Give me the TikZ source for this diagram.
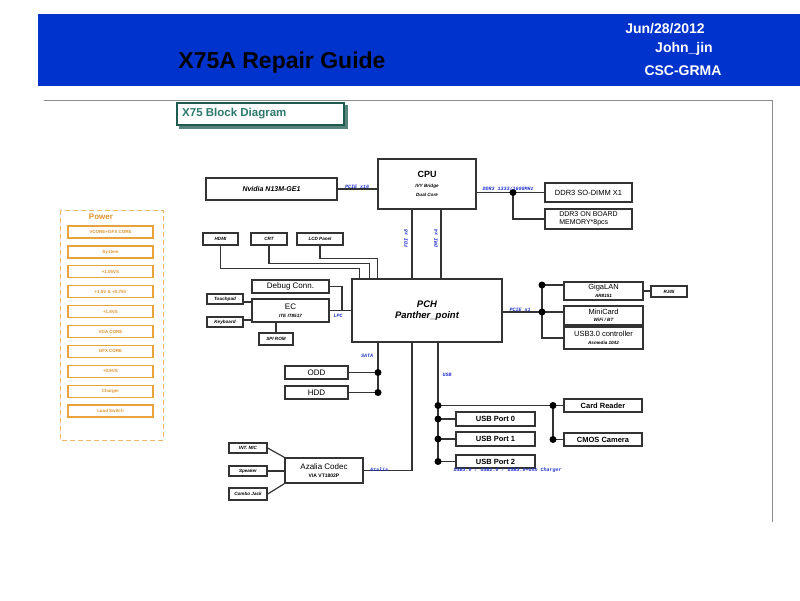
\documentclass[tikz,border=0pt]{standalone}
\usepackage{fontspec}
\setmainfont{Liberation Sans}
\setmonofont{Liberation Mono}
\usetikzlibrary{calc}
\definecolor{hdrblue}{HTML}{0033CC}
\definecolor{pwr}{HTML}{E8A33D}
\definecolor{pwrtxt}{HTML}{E0922E}
\definecolor{teal1}{HTML}{2C7A6B}
\definecolor{teal2}{HTML}{1E5A50}
\definecolor{busblue}{HTML}{2233CC}
\tikzset{
  box/.style={draw=black!80, line width=1.3pt, fill=white, inner sep=0pt, align=center},
  wire/.style={draw=black!80, line width=1.2pt},
  jdot/.style={circle, fill=black, inner sep=0pt, minimum size=7pt},
  buslbl/.style={text=busblue, inner sep=0.5pt, font=\fontsize{5}{5}\selectfont\ttfamily\bfseries\itshape},
  pbox/.style={draw=pwr, line width=1.3pt, minimum width=85pt, minimum height=12pt, inner sep=0pt,
    text=pwrtxt, font=\fontsize{4.5}{5}\selectfont\bfseries},
  tiny/.style={font=\fontsize{4.6}{5}\selectfont\bfseries\itshape},
  two/.style={font=\fontsize{5}{7.5}\selectfont},
  hdr/.style={text=white, font=\fontsize{14}{15}\selectfont\bfseries, inner sep=0pt},
}
\newcommand{\sm}[1]{{\fontsize{4.6}{5.5}\selectfont\bfseries\itshape #1}}
\begin{document}
\begin{tikzpicture}[x=1pt,y=-1pt]
\useasboundingbox (0,0) rectangle (800,600);
% header
\fill[hdrblue] (38,14) rectangle (800,86);
\node[font=\fontsize{23}{24}\selectfont\bfseries, inner sep=0pt] (title) at (282,63) {X75A Repair Guide};
\node[hdr] (date) at (665,29) {Jun/28/2012};
\node[hdr] (author) at (684,49) {John\_jin};
\node[hdr] (dept) at (683,71) {CSC-GRMA};
% frame
\draw[black!45, line width=1pt] (44,100) -- (772,100) -- (772,522);
% block diagram title
\fill[teal2!75] (179,105) rectangle (348,129);
\node[draw=teal2, line width=2.4pt, fill=white, minimum width=167pt, minimum height=22pt, inner sep=0pt] (bdt) at (260.5,114) {};
\node[text=teal1, font=\fontsize{11.5}{12}\selectfont\bfseries, anchor=west, inner sep=0pt] (bdtx) at (182,114) {X75 Block Diagram};
% power panel
\draw[pwr!80, line width=0.9pt, dash pattern=on 5pt off 3pt] (60,210) rectangle (163,440);
\node[text=pwrtxt, font=\fontsize{8}{9}\selectfont\bfseries, inner sep=0pt] (pwrt) at (101,217) {Power};
\foreach \t [count=\i from 0] in {VCORE+GFX CORE, System, +1.05VS, +1.5V \& +0.75V, +1.8VS, VGA CORE, GFX CORE, +0.8VS, Charger, Load Switch}{
  \node[pbox] (p\i) at (110.5,{232+19.9*\i}) {\t};
}
% CPU & neighbours
\node[box, two, minimum width=98pt, minimum height=50pt] (cpu) at (427,184)
  {{\fontsize{9}{10}\selectfont\bfseries CPU}\\[2pt]\sm{IVY Bridge}\\[1.5pt]\sm{Dual Core}};
\node[box, minimum width=131pt, minimum height=22pt, font=\fontsize{7}{8}\selectfont\bfseries\itshape] (nv) at (271.5,189) {Nvidia N13M-GE1};
\node[box, minimum width=87pt, minimum height=19pt, font=\fontsize{7.5}{8}\selectfont] (dimm) at (588.5,192.5) {DDR3 SO-DIMM X1};
\node[box, minimum width=87pt, minimum height=20pt, font=\fontsize{7}{7.5}\selectfont, align=left] (onb) at (588.5,219) {DDR3 ON BOARD\\MEMORY*8pcs};
% display connectors
\node[box, minimum width=35pt, minimum height=12pt, tiny] (hdmi) at (220.5,239) {HDMI};
\node[box, minimum width=36pt, minimum height=12pt, tiny] (crt) at (269,239) {CRT};
\node[box, minimum width=46pt, minimum height=12pt, tiny] (lcd) at (320,239) {LCD Panel};
% PCH
\node[box, minimum width=150pt, minimum height=63pt, font=\fontsize{9.5}{11}\selectfont\bfseries\itshape] (pch) at (427,310.5) {PCH\\Panther\_point};
% left side of PCH
\node[box, minimum width=77pt, minimum height=13pt, font=\fontsize{8}{9}\selectfont] (dbg) at (290.5,286.5) {Debug Conn.};
\node[box, two, minimum width=77pt, minimum height=23pt] (ec) at (290.5,310.5) {{\fontsize{8}{9}\selectfont EC}\\[1pt]\sm{ITE IT8517}};
\node[box, minimum width=36pt, minimum height=10pt, tiny] (tp) at (225,299) {Touchpad};
\node[box, minimum width=36pt, minimum height=10pt, tiny] (kb) at (225,322) {Keyboard};
\node[box, minimum width=34pt, minimum height=12pt, tiny] (spi) at (276,339) {SPI ROM};
\node[box, minimum width=63pt, minimum height=13pt, font=\fontsize{8}{9}\selectfont] (odd) at (316.5,372.5) {ODD};
\node[box, minimum width=63pt, minimum height=13pt, font=\fontsize{8}{9}\selectfont] (hdd) at (316.5,392.5) {HDD};
% right side of PCH
\node[box, two, minimum width=79pt, minimum height=18pt] (lan) at (603.5,291) {{\fontsize{7.5}{8}\selectfont GigaLAN}\\\sm{AR8151}};
\node[box, two, minimum width=79pt, minimum height=19pt] (mini) at (603.5,315.5) {{\fontsize{7.5}{8}\selectfont MiniCard}\\\sm{WiFi / BT}};
\node[box, two, minimum width=79pt, minimum height=22pt] (u3c) at (603.5,338) {{\fontsize{7.5}{8}\selectfont USB3.0 controller}\\\sm{Asmedia 1042}};
\node[box, minimum width=36pt, minimum height=11pt, tiny] (rj) at (669,291.5) {RJ45};
% USB
\node[box, minimum width=78pt, minimum height=13pt, font=\fontsize{7.5}{8}\selectfont\bfseries] (card) at (603,405.5) {Card Reader};
\node[box, minimum width=78pt, minimum height=13pt, font=\fontsize{7.5}{8}\selectfont\bfseries] (cmos) at (603,439.5) {CMOS Camera};
\node[box, minimum width=79pt, minimum height=14pt, font=\fontsize{7.5}{8}\selectfont\bfseries] (u0) at (495.5,419) {USB Port 0};
\node[box, minimum width=79pt, minimum height=14pt, font=\fontsize{7.5}{8}\selectfont\bfseries] (u1) at (495.5,439) {USB Port 1};
\node[box, minimum width=79pt, minimum height=13pt, font=\fontsize{7.5}{8}\selectfont\bfseries] (u2) at (495.5,461.5) {USB Port 2};
% audio
\node[box, two, minimum width=78pt, minimum height=25pt] (codec) at (324,470.5) {{\fontsize{8}{9}\selectfont Azalia Codec}\\[1pt]{\fontsize{5}{6}\selectfont\bfseries VIA VT1802P}};
\node[box, minimum width=38pt, minimum height=10pt, tiny] (mic) at (248,448) {INT. MIC};
\node[box, minimum width=38pt, minimum height=10pt, tiny] (spk) at (248,471) {Speaker};
\node[box, minimum width=38pt, minimum height=12pt, tiny] (cj) at (248,494) {Combo Jack};
% coordinates
\coordinate (ddot) at (513,192.5);
\coordinate (lpcj) at (342,310.5);
\coordinate (fdit) at ([xshift=-15pt]cpu.south);
\coordinate (dmit) at ([xshift=14pt]cpu.south);
\coordinate (sata) at ([xshift=-49pt]pch.south);
\coordinate (azl) at ([xshift=-15pt]pch.south);
\coordinate (usb) at ([xshift=11pt]pch.south);
\coordinate (gj) at (542,285);
\coordinate (mj) at (542,312);
\coordinate (camj) at (553,405.5);
% wires
\draw[wire] (nv.east) -- (nv.east -| cpu.west);
\draw[wire] (cpu.east |- dimm.west) -- (dimm.west);
\draw[wire] (ddot) |- (onb.west);
\draw[wire] (hdmi.south) -- ++(0,23) -| ([xshift=8pt]pch.north west);
\draw[wire] (crt.south) -- ++(0,18) -| ([xshift=18pt]pch.north west);
\draw[wire] (lcd.south) -- ++(0,13) -| ([xshift=26pt]pch.north west);
\draw[wire] (fdit) -- ([xshift=-15pt]pch.north);
\draw[wire] (dmit) -- ([xshift=14pt]pch.north);
\draw[wire] (ec.east) -- (ec.east -| pch.west);
\draw[wire] (dbg.east) -| (lpcj);
\draw[wire] ([yshift=-3pt]tp.east) -- ([yshift=-3pt]tp.east -| ec.west);
\draw[wire] ([yshift=2pt]kb.east) -- ([yshift=2pt]kb.east -| ec.west);
\draw[wire] (spi.north) -- (spi.north |- ec.south);
\draw[wire] (sata) -- (sata |- hdd.east);
\draw[wire] (odd.east) -- (sata |- odd.east);
\draw[wire] (hdd.east) -- (sata |- hdd.east);
\draw[wire] (codec.east) -| (azl);
\draw[wire] (mic.east) -- (codec.north west);
\draw[wire] (spk.east) -- (spk.east -| codec.west);
\draw[wire] (cj.east) -- (codec.south west);
\draw[wire] (pch.east |- mj) -- (mj);
\draw[wire] (gj) -- (gj -| lan.west);
\draw[wire] (mj) -- (mj -| mini.west);
\draw[wire] (gj) |- (u3c.west);
\draw[wire] (lan.east) -- (lan.east -| rj.west);
\draw[wire] (usb) -- (usb |- u2.west);
\draw[wire] (usb |- card.west) -- (card.west);
\draw[wire] (usb |- u0.west) -- (u0.west);
\draw[wire] (usb |- u1.west) -- (u1.west);
\draw[wire] (usb |- u2.west) -- (u2.west);
\draw[wire] (camj) |- (cmos.west);
% junction dots
\node[jdot] (d1) at (ddot) {};
\node[jdot] (d2) at (sata |- odd.east) {};
\node[jdot] (d3) at (sata |- hdd.east) {};
\node[jdot] (d4) at (gj) {};
\node[jdot] (d5) at (mj) {};
\node[jdot] (d6) at (usb |- card.west) {};
\node[jdot] (d7) at (usb |- u0.west) {};
\node[jdot] (d8) at (usb |- u1.west) {};
\node[jdot] (d9) at (usb |- u2.west) {};
\node[jdot] (d10) at (camj) {};
\node[jdot] (d11) at (camj |- cmos.west) {};
% bus labels
\node[buslbl, anchor=south] (lx16) at (357,189) {PCIE x16};
\node[buslbl, anchor=south] (lddr) at (508,191) {DDR3 1333/1600MHz};
\node[buslbl, rotate=90] (lfdi) at (406,238) {FDI x8};
\node[buslbl, rotate=90] (ldmi) at (436,238) {DMI x4};
\node[buslbl] (llpc) at (338,316) {LPC};
\node[buslbl] (lsata) at (367,356) {SATA};
\node[buslbl] (lusb) at (447,375) {USB};
\node[buslbl, anchor=south] (lx1) at (520,312) {PCIE x1};
\node[buslbl, anchor=south] (lazl) at (379,472) {Azalia};
\node[buslbl, anchor=west] (lusbs) at (453,470.5) {USB3.0 / USB2.0 / USB3.0+Usb Charger};
\end{tikzpicture}
\end{document}
